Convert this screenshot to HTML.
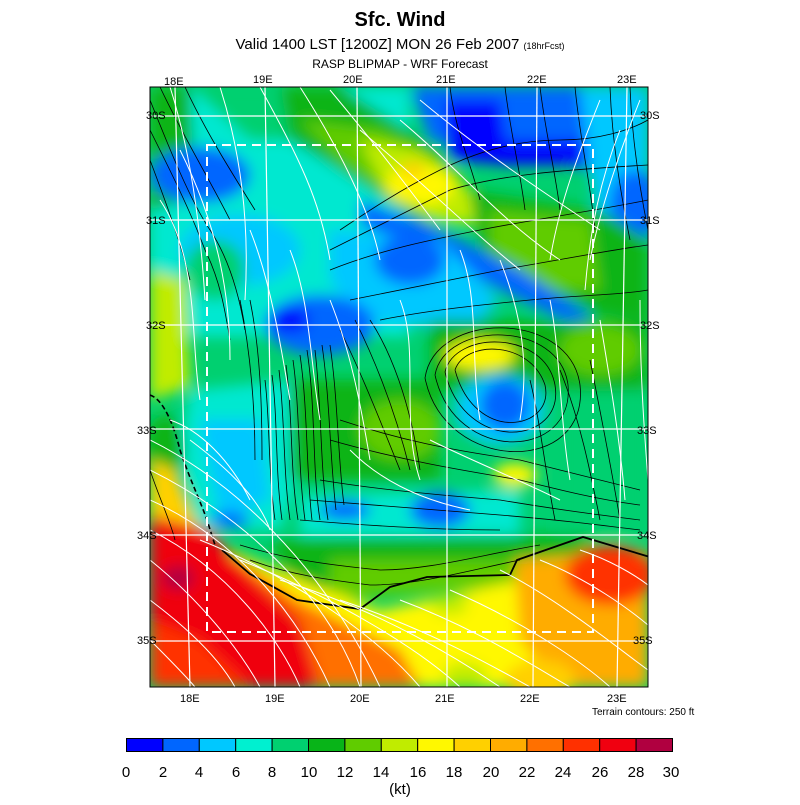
<!DOCTYPE html>
<html><head><meta charset="utf-8"><style>
body{margin:0;background:#fff;width:800px;height:800px;overflow:hidden;font-family:"Liberation Sans",sans-serif}
</style></head><body>
<svg width="800" height="800" xmlns="http://www.w3.org/2000/svg" font-family="Liberation Sans, sans-serif">
<defs>
<filter id="b" x="-20%" y="-20%" width="140%" height="140%"><feGaussianBlur stdDeviation="7"/></filter>
<filter id="s" x="-20%" y="-20%" width="140%" height="140%"><feGaussianBlur stdDeviation="3"/></filter>
<clipPath id="c"><rect x="150" y="87" width="498" height="600"/></clipPath>
</defs>
<text x="400" y="26" text-anchor="middle" font-size="20" font-weight="bold">Sfc. Wind</text>
<text x="400" y="49" text-anchor="middle" font-size="15">Valid 1400 LST [1200Z] MON 26 Feb 2007 <tspan font-size="9">(18hrFcst)</tspan></text>
<text x="400" y="68" text-anchor="middle" font-size="12">RASP BLIPMAP - WRF Forecast</text>
<g clip-path="url(#c)">
<rect x="150" y="87" width="498" height="600" fill="#00d070"/>
<g filter="url(#b)">
<!-- upper -->
<rect x="150" y="87" width="260" height="250" fill="#00e8d0"/>
<polygon points="150,87 190,87 195,200 150,210" fill="#08b418"/>
<polygon points="190,87 280,87 300,140 250,140" fill="#00d070"/>
<ellipse cx="200" cy="175" rx="50" ry="28" fill="#0066ff"/>
<ellipse cx="240" cy="250" rx="60" ry="35" fill="#00c8ff"/>
<ellipse cx="215" cy="270" rx="30" ry="30" fill="#00d070"/>
<polygon points="280,87 340,87 440,150 470,210 420,220 340,170 290,140" fill="#08b418"/>
<polygon points="300,120 380,130 460,170 470,220 420,215 340,160" fill="#60cc00"/>
<polygon points="360,140 420,150 470,190 475,225 430,220 380,180" fill="#c0ec00"/>
<ellipse cx="420" cy="185" rx="35" ry="20" fill="#fff800"/>
<ellipse cx="413" cy="170" rx="12" ry="8" fill="#ffd000"/>
<polygon points="410,87 648,87 648,170 590,170 430,140" fill="#0066ff"/>
<polygon points="445,100 500,100 510,165 450,160" fill="#0000ff"/>
<polygon points="500,140 585,140 585,165 500,165" fill="#0000ff"/>
<polygon points="580,87 648,87 648,260 600,230 590,170" fill="#00c8ff"/>
<ellipse cx="635" cy="205" rx="25" ry="35" fill="#0066ff"/>
<polygon points="470,190 600,210 648,240 648,320 600,315 480,250" fill="#08b418"/>
<polygon points="490,210 590,220 600,290 540,290 490,250" fill="#60cc00"/>
<polygon points="360,200 430,225 520,270 590,315 585,330 510,295 420,250 360,225" fill="#0066ff"/>
<polygon points="330,230 440,240 500,300 470,330 360,320 330,280" fill="#00c8ff"/>
<ellipse cx="410" cy="260" rx="35" ry="25" fill="#0066ff"/>
<ellipse cx="320" cy="325" rx="55" ry="30" fill="#0066ff"/>
<ellipse cx="290" cy="320" rx="20" ry="12" fill="#0000ff"/>
<polygon points="150,270 185,280 190,387 150,400" fill="#c0ec00"/>
<polygon points="430,320 648,320 648,390 430,390" fill="#08b418"/>
<ellipse cx="480" cy="355" rx="35" ry="15" fill="#fff800"/>
<ellipse cx="600" cy="350" rx="40" ry="25" fill="#60cc00"/>
<!-- lower -->
<polygon points="190,390 290,380 300,470 280,530 200,530 180,450" fill="#00e8d0"/>
<polygon points="200,420 260,420 270,500 220,520" fill="#00c8ff"/>
<ellipse cx="230" cy="520" rx="20" ry="8" fill="#0066ff"/>
<ellipse cx="165" cy="450" rx="20" ry="35" fill="#08b418"/>
<polygon points="290,380 440,380 440,480 290,480" fill="#08b418"/>
<ellipse cx="400" cy="430" rx="40" ry="30" fill="#60cc00"/>
<ellipse cx="500" cy="410" rx="45" ry="35" fill="#00c8ff"/>
<ellipse cx="505" cy="405" rx="25" ry="25" fill="#0066ff"/>
<polygon points="300,495 520,490 520,535 300,535" fill="#00e8d0"/>
<ellipse cx="440" cy="510" rx="30" ry="18" fill="#0066ff"/>
<ellipse cx="345" cy="510" rx="25" ry="10" fill="#0066ff"/>
<ellipse cx="515" cy="475" rx="22" ry="12" fill="#fff800"/>
<polygon points="560,390 648,390 648,535 560,535" fill="#00d070"/>
<polygon points="270,540 590,535 590,580 520,580 300,600" fill="#08b418"/>
<polygon points="330,560 520,560 520,585 330,600" fill="#60cc00"/>
<polygon points="150,460 175,470 200,530 150,540" fill="#ffd000"/>
<polygon points="230,550 300,580 380,610 520,580 600,560 648,560 648,687 150,687" fill="#fff800"/>
<polygon points="150,520 240,560 300,600 400,650 420,687 150,687" fill="#ff7000"/>
<polygon points="150,515 210,530 250,575 300,620 320,687 150,687" fill="#f00010"/>
<polygon points="150,620 200,640 250,687 150,687" fill="#ff3000"/>
<ellipse cx="178" cy="578" rx="16" ry="12" fill="#b00040"/>
<polygon points="515,560 648,550 648,687 560,687 520,640" fill="#ffac00"/>
<ellipse cx="610" cy="575" rx="45" ry="30" fill="#ff3000"/>
<ellipse cx="540" cy="680" rx="35" ry="20" fill="#ffd000"/>
<ellipse cx="450" cy="605" rx="18" ry="10" fill="#c0ec00"/>
<ellipse cx="465" cy="675" rx="22" ry="12" fill="#c0ec00"/>
</g>
<g fill="none" stroke="#000" stroke-width="0.8">
<path d="M222,550 L250,574 L297,600 L360,609 L390,587 L427,577 L510,575 L517,560 L583,537 L650,557" stroke-width="1.8"/>
<path d="M150,395 C165,400 175,430 180,450 C190,480 200,500 207,520 L215,545" stroke-dasharray="5 3" stroke-width="1.6"/>
<path d="M150,100 C170,150 190,200 210,230 C230,260 240,300 245,330"/>
<path d="M150,130 C170,170 190,210 205,250 C220,280 225,310 230,340"/>
<path d="M150,160 C165,200 180,240 190,280"/>
<path d="M160,87 C185,140 210,180 230,220"/>
<path d="M185,87 C205,130 230,170 255,210"/>
<path d="M150,470 C160,500 170,520 175,540"/>
<path d="M265,380 C270,420 268,470 275,520"/><path d="M272,375 C278,420 275,470 282,520"/>
<path d="M279,370 C285,420 283,470 290,520"/><path d="M286,365 C293,420 290,470 298,520"/>
<path d="M293,360 C300,410 298,470 305,520"/><path d="M300,355 C308,410 306,470 312,520"/>
<path d="M307,350 C316,410 312,470 320,520"/><path d="M315,350 C322,410 320,470 328,520"/>
<path d="M322,345 C330,400 330,460 336,510"/><path d="M330,345 C338,400 338,460 344,505"/>
<path d="M240,300 C250,350 255,400 255,460"/><path d="M250,300 C260,350 262,400 262,460"/>
<path d="M340,330 C360,370 380,420 400,470"/><path d="M355,320 C375,360 395,410 410,470"/>
<path d="M370,320 C390,350 410,400 420,470"/>
<path d="M450,87 C455,130 470,160 480,200"/><path d="M505,87 C510,130 520,170 525,210"/>
<path d="M540,87 C545,130 555,170 560,210"/><path d="M575,87 C580,140 590,180 595,230"/>
<path d="M610,87 C612,140 620,190 630,240"/><path d="M630,87 C632,140 640,190 648,230"/>
<path d="M340,230 C370,210 400,190 440,170 C480,150 520,140 560,140 C600,140 630,130 648,120"/>
<path d="M330,250 C370,230 410,210 450,190 C500,175 560,170 648,165"/>
<path d="M330,270 C380,250 430,240 480,230 C530,220 600,210 648,200"/>
<path d="M350,300 C400,290 450,280 500,270 C560,260 610,250 648,245"/>
<path d="M380,320 C430,310 480,305 530,300 C580,295 620,295 648,290"/>
<path d="M455,370 C465,340 530,340 545,385 C555,430 475,445 455,370"/>
<path d="M445,372 C455,330 545,330 555,385 C565,445 465,455 445,372"/>
<path d="M435,375 C445,320 560,320 568,385 C575,460 455,465 435,375"/>
<path d="M425,378 C435,310 570,310 580,385 C590,475 445,475 425,378"/>
<path d="M340,420 C400,440 450,450 520,460 C560,470 600,480 640,490"/>
<path d="M330,440 C400,460 460,470 520,480 C560,490 600,500 640,505"/>
<path d="M320,480 C380,490 440,495 500,500 C560,510 600,515 640,520"/>
<path d="M310,500 C380,505 440,510 500,515 C560,520 600,525 640,530"/>
<path d="M300,520 C360,525 440,530 500,530"/>
<path d="M250,560 C290,575 330,580 370,585 C420,585 470,570 520,560"/>
<path d="M240,545 C290,560 330,565 380,570 C430,570 480,555 540,545"/>
<path d="M560,370 C580,420 590,470 600,520"/><path d="M590,360 C600,410 610,460 620,520"/>
<path d="M530,380 C540,420 545,470 555,520"/>
</g>
<g fill="none" stroke="#fff" stroke-width="1">
<path d="M150,440 C230,480 320,560 380,687"/><path d="M150,470 C250,520 330,600 360,687"/>
<path d="M150,500 C240,540 300,620 330,687"/><path d="M150,530 C230,570 280,640 300,687"/>
<path d="M150,560 C200,600 240,650 260,687"/><path d="M150,600 C190,630 220,660 235,687"/>
<path d="M150,640 C170,660 185,675 195,687"/>
<path d="M200,540 C300,580 380,640 420,687"/><path d="M240,560 C340,600 420,650 460,687"/>
<path d="M280,580 C380,610 460,660 500,687"/><path d="M340,600 C430,630 500,670 530,687"/>
<path d="M400,600 C480,630 540,670 570,687"/><path d="M450,590 C520,620 580,660 610,687"/>
<path d="M500,570 C560,600 620,650 648,670"/><path d="M540,560 C590,580 630,610 648,625"/>
<path d="M580,550 C610,560 635,575 648,585"/>
<path d="M170,87 C190,150 200,220 205,300"/><path d="M220,87 C240,150 250,220 245,300"/>
<path d="M260,87 C300,160 320,200 330,260"/><path d="M300,87 C340,150 370,210 380,260"/>
<path d="M330,90 C380,150 410,190 440,230"/><path d="M420,100 C480,150 540,190 600,230"/>
<path d="M400,120 C460,170 500,220 560,260"/><path d="M360,130 C420,180 470,230 520,270"/>
<path d="M160,200 C200,260 190,340 200,400"/><path d="M180,150 C220,230 230,300 230,360"/>
<path d="M600,100 C580,150 560,200 550,260"/><path d="M640,100 C620,150 600,210 590,260"/>
<path d="M620,130 C600,180 590,230 585,290"/>
<path d="M400,300 C420,350 400,420 420,480"/><path d="M500,260 C520,310 530,360 520,420"/>
<path d="M460,250 C480,300 470,360 480,420"/><path d="M550,300 C560,350 560,420 570,480"/>
<path d="M600,320 C610,380 620,440 625,500"/><path d="M640,300 C640,380 645,440 648,480"/>
<path d="M330,300 C350,350 360,400 370,460"/><path d="M290,250 C310,300 310,360 320,420"/>
<path d="M250,230 C270,280 280,340 290,400"/>
<path d="M170,420 C200,430 230,460 250,500"/><path d="M190,440 C230,470 260,500 270,530"/>
<path d="M350,450 C380,480 420,500 470,510"/><path d="M430,440 C470,460 520,480 560,500"/>
</g>
<g stroke="#fff" stroke-width="1.2" fill="none">
<path d="M175,87 L190,687"/><path d="M265,87 L275,687"/><path d="M357,87 L361,687"/>
<path d="M447,87 L447,687"/><path d="M537,87 L533,687"/><path d="M627,87 L617,687"/>
<path d="M150,116 H648"/><path d="M150,220 H648"/><path d="M150,325 H648"/>
<path d="M150,429 H648"/><path d="M150,535 H648"/><path d="M150,641 H648"/>
<rect x="207" y="145" width="386" height="487" stroke-width="2" stroke-dasharray="9 6"/>
</g>
</g>
<rect x="150" y="87" width="498" height="600" fill="none" stroke="#000" stroke-width="1"/>
<g font-size="11" fill="#000">
<text x="164" y="85">18E</text><text x="253" y="83">19E</text><text x="343" y="83">20E</text><text x="436" y="83">21E</text><text x="527" y="83">22E</text><text x="617" y="83">23E</text>
<text x="146" y="119">30S</text><text x="146" y="224">31S</text><text x="146" y="329">32S</text>
<text x="137" y="434">33S</text><text x="137" y="539">34S</text><text x="137" y="644">35S</text>
<text x="640" y="119">30S</text><text x="640" y="224">31S</text><text x="640" y="329">32S</text><text x="637" y="434">33S</text><text x="637" y="539">34S</text><text x="633" y="644">35S</text>
<text x="180" y="702">18E</text><text x="265" y="702">19E</text><text x="350" y="702">20E</text><text x="435" y="702">21E</text><text x="520" y="702">22E</text><text x="607" y="702">23E</text>
<text x="592" y="715" font-size="10">Terrain contours: 250 ft</text>
</g>
<g stroke="#000" stroke-width="1">
<rect x="126.5" y="738.5" width="36.4" height="13" fill="#0000ff"/>
<rect x="162.9" y="738.5" width="36.4" height="13" fill="#0066ff"/>
<rect x="199.3" y="738.5" width="36.4" height="13" fill="#00c8ff"/>
<rect x="235.7" y="738.5" width="36.4" height="13" fill="#00f0d0"/>
<rect x="272.1" y="738.5" width="36.4" height="13" fill="#00d070"/>
<rect x="308.5" y="738.5" width="36.4" height="13" fill="#08b418"/>
<rect x="344.9" y="738.5" width="36.4" height="13" fill="#60cc00"/>
<rect x="381.3" y="738.5" width="36.4" height="13" fill="#c0ec00"/>
<rect x="417.7" y="738.5" width="36.4" height="13" fill="#fff800"/>
<rect x="454.1" y="738.5" width="36.4" height="13" fill="#ffd000"/>
<rect x="490.5" y="738.5" width="36.4" height="13" fill="#ffac00"/>
<rect x="526.9" y="738.5" width="36.4" height="13" fill="#ff7000"/>
<rect x="563.3" y="738.5" width="36.4" height="13" fill="#ff3000"/>
<rect x="599.7" y="738.5" width="36.4" height="13" fill="#f00010"/>
<rect x="636.1" y="738.5" width="36.4" height="13" fill="#b00040"/>
</g>
<g font-size="15" text-anchor="middle">
<text x="126" y="777">0</text><text x="163" y="777">2</text><text x="199" y="777">4</text><text x="236" y="777">6</text><text x="272" y="777">8</text><text x="309" y="777">10</text><text x="345" y="777">12</text><text x="381" y="777">14</text><text x="418" y="777">16</text><text x="454" y="777">18</text><text x="491" y="777">20</text><text x="527" y="777">22</text><text x="563" y="777">24</text><text x="600" y="777">26</text><text x="636" y="777">28</text><text x="671" y="777">30</text>
<text x="400" y="794">(kt)</text>
</g>
</svg>
</body></html>
